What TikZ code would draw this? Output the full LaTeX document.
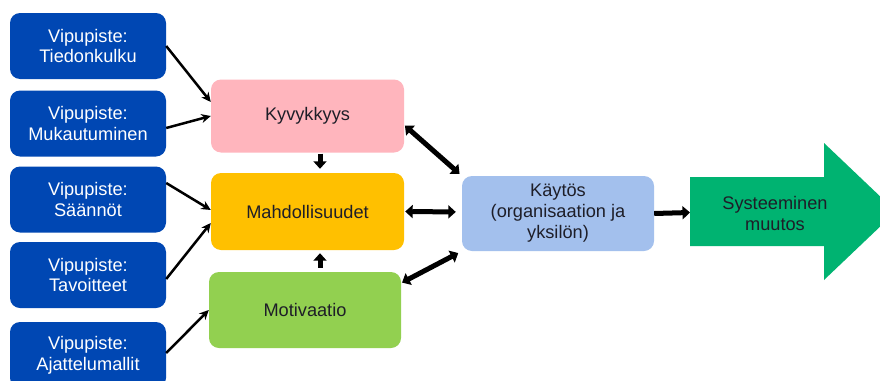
\documentclass[tikz,border=0pt]{standalone}
\usepackage{fontspec}
\setmainfont{Liberation Sans}
\usetikzlibrary{arrows.meta,calc}
\definecolor{vblue}{HTML}{0047B3}
\definecolor{vpink}{HTML}{FFB5BD}
\definecolor{vyellow}{HTML}{FFC000}
\definecolor{vgreen}{HTML}{92D050}
\definecolor{vlblue}{HTML}{A3C0ED}
\definecolor{vbig}{HTML}{00B371}
\definecolor{vtext}{HTML}{1E1E28}
\tikzset{
  lever/.style={fill=vblue, rounded corners=10pt, minimum width=156pt, minimum height=66pt,
    text=white, align=center, inner sep=0pt, font=\fontsize{18.2}{20.8}\selectfont},
  factor/.style={rounded corners=10pt, minimum width=193pt, minimum height=73pt,
    text=vtext, align=center, inner sep=0pt, font=\fontsize{18.2}{21}\selectfont},
  thin/.style={draw=black, line width=2.5pt, -{Stealth[length=9.5pt,width=9pt]}},
  thick/.style={draw=black, line width=5pt, -{Triangle[length=7.5pt,width=13pt]}},
  thickboth/.style={draw=black, line width=5pt, {Triangle[length=7.5pt,width=13pt]}-{Triangle[length=7.5pt,width=13pt]}}
}
\begin{document}
\begin{tikzpicture}[x=1pt,y=-1pt]
\useasboundingbox (0,0) rectangle (880,380);
\fill[white] (0,0) rectangle (880,380);
% lever boxes
\node[lever] (b1) at (88,46) {Vipupiste:\\Tiedonkulku};
\node[lever] (b2) at (88,123.5) {Vipupiste:\\Mukautuminen};
\node[lever] (b3) at (88,199.5) {Vipupiste:\\Säännöt};
\node[lever] (b4) at (88,275) {Vipupiste:\\Tavoitteet};
\node[lever] (b5) at (88,355) {Vipupiste:\\Ajattelumallit};
% factor boxes
\node[factor, fill=vpink] (k) at (307.5,116) {Kyvykkyys};
\node[factor, fill=vyellow, minimum height=77pt] (m) at (307.5,211.5) {Mahdollisuudet};
\node[factor, fill=vgreen, minimum width=192pt, minimum height=76pt] (mo) at (305,310) {Motivaatio};
\node[factor, fill=vlblue, minimum width=192pt, minimum height=75pt] (ka) at (558,213.5) {Käytös\\(organisaation ja\\yksilön)};
% big arrow
\fill[vbig] (690,177) -- (824,177) -- (824,143) -- (896,211.5) -- (824,280) -- (824,246) -- (690,246) -- cycle;
\coordinate (sain) at (690,212.5);
\node[text=vtext, align=center, font=\fontsize{18.2}{21}\selectfont] (sa) at (775,213) {Systeeminen\\muutos};
% thin arrows
\draw[thin] (b1.east) -- ([yshift=14pt]k.west);
\draw[thin] ([yshift=-4.5pt]b2.east) -- (k.west);
\draw[thin] ([yshift=16.5pt]b3.east) -- ([yshift=1.5pt]m.west);
\draw[thin] ([yshift=-4pt]b4.east) -- ([yshift=-11.5pt]m.west);
\draw[thin] ([yshift=2pt]b5.east) -- (mo.west);
% thick arrows
\draw[thick, shorten >=4pt, shorten <=1pt] ([xshift=12.5pt]k.south) -- ([xshift=12.5pt]m.north);
\draw[thick, shorten >=3pt, shorten <=4pt] ([xshift=15pt]mo.north) -- ([xshift=12.5pt]m.south);
\draw[thickboth, shorten <=1pt, shorten >=3pt] ([yshift=-9pt]k.east) -- (ka.north west);
\draw[thickboth, shorten <=1pt, shorten >=6pt] (m.east) -- ([yshift=1.5pt]ka.west);
\draw[thickboth, shorten <=1pt, shorten >=4pt] ([yshift=27pt]mo.east) -- (ka.south west);
\draw[thick] (ka.east) -- (sain);
\end{tikzpicture}
\end{document}
